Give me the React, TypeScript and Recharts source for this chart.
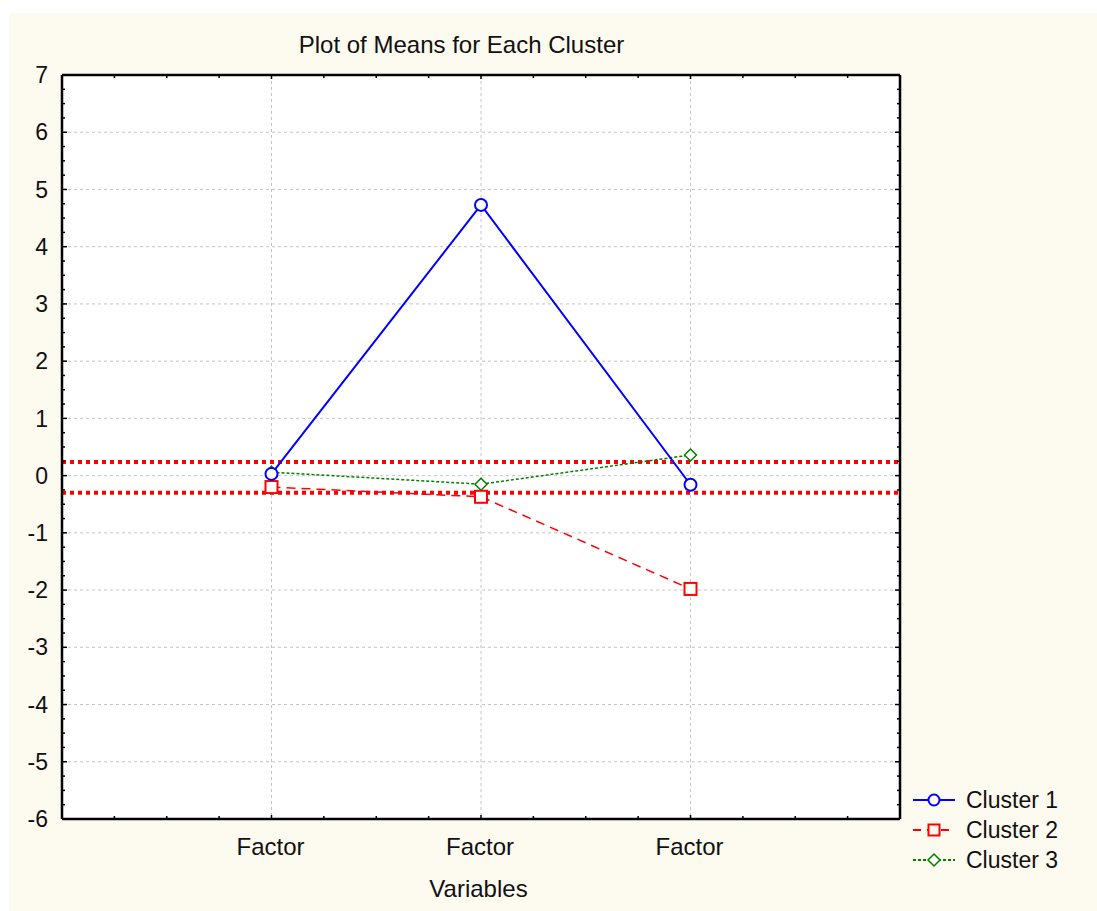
import React from 'react';
import { LineChart, Line, XAxis, YAxis, CartesianGrid, ReferenceLine, Legend } from 'recharts';

const categories = ['Factor', 'Factor', 'Factor'];
const cluster1 = [0.03, 4.73, -0.16];
const cluster2 = [-0.2, -0.37, -1.98];
const cluster3 = [0.06, -0.15, 0.36];
const refLines = [0.24, -0.3];
const yMajorTicks = [-6, -5, -4, -3, -2, -1, 0, 1, 2, 3, 4, 5, 6, 7];
const seriesNames = ['Cluster 1', 'Cluster 2', 'Cluster 3'];

const data = categories.map((c, i) => ({
  x: i + 1,
  name: c,
  c1: cluster1[i],
  c2: cluster2[i],
  c3: cluster3[i],
}));

const xTicks: number[] = [];
for (let i = 0; i <= 16; i++) xTicks.push(i / 4);
const yTicks: number[] = [];
for (let i = -24; i <= 28; i++) yTicks.push(i / 4);

const FONT = '"Liberation Sans", Arial, sans-serif';
const FS = 23;
const FS_BIG = 24;

const BottomTick = (props: any) => {
  const { x, y, payload } = props;
  const v = payload.value;
  const isInt = Math.abs(v - Math.round(v)) < 1e-6;
  const label = isInt && v >= 1 && v <= 3 ? categories[Math.round(v) - 1] : '';
  return (
    <g>
      <line x1={x} x2={x} y1={y} y2={y - (isInt ? 4 : 3)} stroke="#000" strokeWidth={1.5} />
      {label && (
        <text x={x - 1} y={y + 19} dy="0.71em" textAnchor="middle" fontFamily={FONT} fontSize={FS_BIG} fill="#111">
          {label}
        </text>
      )}
    </g>
  );
};

const TopTick = (props: any) => {
  const { x, y, payload } = props;
  const v = payload.value;
  const isInt = Math.abs(v - Math.round(v)) < 1e-6;
  return <line x1={x} x2={x} y1={y} y2={y + (isInt ? 4 : 3)} stroke="#000" strokeWidth={1.5} />;
};

const LeftTick = (props: any) => {
  const { x, y, payload } = props;
  const v = payload.value;
  const isInt = Math.abs(v - Math.round(v)) < 1e-6;
  return (
    <g>
      <line x1={x} x2={x + (isInt ? 5 : 3)} y1={y} y2={y} stroke="#000" strokeWidth={1.5} />
      {isInt && (
        <text x={x - 14} y={y} dy="0.355em" textAnchor="end" fontFamily={FONT} fontSize={FS} fill="#111">
          {String(Math.round(v))}
        </text>
      )}
    </g>
  );
};

const RightTick = (props: any) => {
  const { x, y, payload } = props;
  const v = payload.value;
  const isInt = Math.abs(v - Math.round(v)) < 1e-6;
  return <line x1={x} x2={x - (isInt ? 5 : 3)} y1={y} y2={y} stroke="#000" strokeWidth={1.5} />;
};

const SquareDot = (props: any) => {
  const { cx, cy, index } = props;
  if (cx == null || cy == null) return <g key={`s${index}`} />;
  return <rect key={`s${index}`} x={cx - 6} y={cy - 6} width={12} height={12} fill="#fff" stroke="#FF0000" strokeWidth={2} />;
};

const DiamondDot = (props: any) => {
  const { cx, cy, index } = props;
  if (cx == null || cy == null) return <g key={`d${index}`} />;
  const r = 6;
  return (
    <path
      key={`d${index}`}
      d={`M${cx},${cy - r}L${cx + r},${cy}L${cx},${cy + r}L${cx - r},${cy}Z`}
      fill="#fff"
      stroke="#008000"
      strokeWidth={1.5}
    />
  );
};

const LegendContent = () => {
  const rows = [
    { color: '#0000FF', dash: undefined, marker: 'circle' },
    { color: '#FF0000', dash: '8 6', marker: 'square' },
    { color: '#008000', dash: '3 2', marker: 'diamond' },
  ];
  return (
    <svg width={190} height={95} style={{ display: 'block' }}>
      {rows.map((r, i) => {
        const y = 15 + i * 30;
        const mx = 29;
        return (
          <g key={i}>
            <line x1={8} x2={50} y1={y} y2={y} stroke={r.color} strokeWidth={2} strokeDasharray={r.dash} />
            {r.marker === 'circle' && <circle cx={mx} cy={y} r={5.5} fill="#fdfaf0" stroke={r.color} strokeWidth={2} />}
            {r.marker === 'square' && <rect x={mx - 5.5} y={y - 5.5} width={11} height={11} fill="#fdfaf0" stroke={r.color} strokeWidth={2} />}
            {r.marker === 'diamond' && (
              <path d={`M${mx},${y - 6}L${mx + 6},${y}L${mx},${y + 6}L${mx - 6},${y}Z`} fill="#fdfaf0" stroke={r.color} strokeWidth={1.5} />
            )}
            <text x={61} y={y} dy="0.355em" fontFamily={FONT} fontSize={FS} fill="#111">
              {seriesNames[i]}
            </text>
          </g>
        );
      })}
    </svg>
  );
};

export default function App() {
  return (
    <div style={{ position: 'absolute', left: 0, top: 0, width: 1097, height: 911, background: '#fff' }}>
      <div style={{ position: 'absolute', left: 9, top: 13, width: 1088, height: 898, background: '#FDFAF0' }} />
      <div style={{ position: 'absolute', left: 0, top: 0 }}>
        <LineChart width={1097} height={911} data={data} margin={{ top: 65, right: 187, bottom: 62, left: 12 }}>
          <CartesianGrid
            stroke="#c4c4c4"
            strokeDasharray="3 3"
            horizontalValues={yMajorTicks}
            verticalValues={[1, 2, 3]}
            fill="#fff"
          />
          <XAxis
            dataKey="x"
            type="number"
            domain={[0, 4]}
            ticks={xTicks}
            interval={0}
            height={30}
            tickSize={0}
            tickMargin={0}
            tickLine={false}
            axisLine={{ stroke: '#000', strokeWidth: 2.5 }}
            tick={<BottomTick />}
            label={{
              value: 'Variables',
              content: () => (
                <text x={478.5} y={897} textAnchor="middle" fontFamily={FONT} fontSize={FS_BIG} fill="#111">
                  Variables
                </text>
              ),
            }}
          />
          <XAxis
            xAxisId="top"
            orientation="top"
            dataKey="x"
            type="number"
            domain={[0, 4]}
            ticks={xTicks}
            interval={0}
            height={10}
            tickSize={0}
            tickMargin={0}
            tickLine={false}
            axisLine={{ stroke: '#000', strokeWidth: 2.5 }}
            tick={<TopTick />}
            label={{
              value: 'Plot of Means for Each Cluster',
              content: () => (
                <text x={461.5} y={53} textAnchor="middle" fontFamily={FONT} fontSize={FS_BIG} fill="#111">
                  Plot of Means for Each Cluster
                </text>
              ),
            }}
          />
          <YAxis
            type="number"
            domain={[-6, 7]}
            ticks={yTicks}
            interval={0}
            width={50}
            tickSize={0}
            tickMargin={0}
            tickLine={false}
            axisLine={{ stroke: '#000', strokeWidth: 2.5 }}
            tick={<LeftTick />}
            allowDataOverflow
          />
          <YAxis
            yAxisId="right"
            orientation="right"
            type="number"
            domain={[-6, 7]}
            ticks={yTicks}
            interval={0}
            width={10}
            tickSize={0}
            tickMargin={0}
            tickLine={false}
            axisLine={{ stroke: '#000', strokeWidth: 2.5 }}
            tick={<RightTick />}
            allowDataOverflow
          />
          {refLines.map((v, i) => (
            <ReferenceLine key={i} y={v} stroke="#FF0000" strokeWidth={4} strokeDasharray="4 4" />
          ))}
          <Line
            dataKey="c3"
            name={seriesNames[2]}
            stroke="#008000"
            strokeWidth={1.5}
            strokeDasharray="3 2"
            dot={<DiamondDot />}
            isAnimationActive={false}
          />
          <Line
            dataKey="c2"
            name={seriesNames[1]}
            stroke="#FF0000"
            strokeWidth={1.5}
            strokeDasharray="9 6"
            dot={<SquareDot />}
            isAnimationActive={false}
          />
          <Line
            dataKey="c1"
            name={seriesNames[0]}
            stroke="#0000FF"
            strokeWidth={2}
            dot={{ r: 6, stroke: '#0000FF', strokeWidth: 2, fill: '#fff' }}
            isAnimationActive={false}
          />
          <Legend
            layout="vertical"
            align="center"
            verticalAlign="middle"
            content={<LegendContent />}
            wrapperStyle={{ position: 'absolute', left: 905, top: 785, width: 190, height: 95 }}
          />
        </LineChart>
      </div>
    </div>
  );
}
